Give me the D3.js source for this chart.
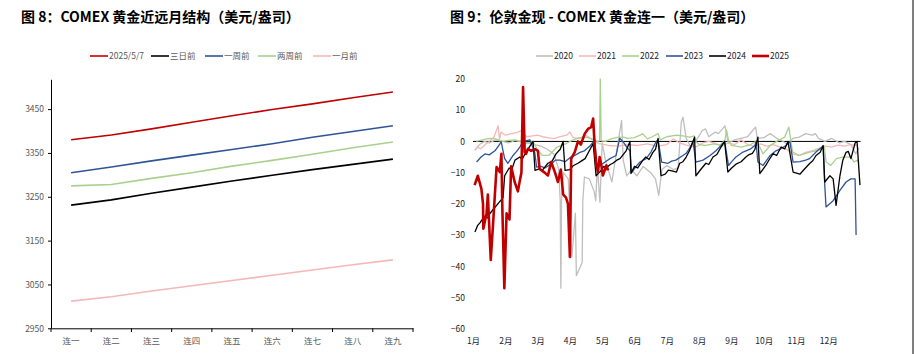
<!DOCTYPE html>
<html>
<head>
<meta charset="utf-8">
<script src="https://cdn.jsdelivr.net/npm/d3@7"></script>
<style>
  body { margin: 0; background: #fff; }
  svg { display: block; }
  .title { font-family: "Noto Sans CJK SC", sans-serif; font-weight: bold; font-size: 14px; fill: #000; }
  .num { font-family: "Liberation Sans Narrow", "Noto Sans CJK SC", sans-serif; }
  .cjk { font-family: "Noto Sans CJK SC", sans-serif; }
</style>
</head>
<body>
<script>
// ---- 图8 数据：近远月结构 ----
const contracts = ["连一", "连二", "连三", "连四", "连五", "连六", "连七", "连八", "连九"]
const curveNames = ["2025/5/7", "三日前", "一周前", "两周前", "一月前"]
const curveColors = ["#c00000", "#000000", "#2f5597", "#a9d18e", "#f4b8b8"]
const curve_0507 = [3380, 3391, 3405, 3420, 3435, 3449, 3462, 3476, 3489]
const curve_3d   = [3231, 3243, 3258, 3272, 3286, 3299, 3312, 3324, 3336]
const curve_1w   = [3305, 3318, 3332, 3345, 3358, 3371, 3386, 3399, 3412]
const curve_2w   = [3275, 3278, 3292, 3305, 3320, 3333, 3347, 3362, 3375]
const curve_1m   = [3012, 3022, 3035, 3047, 3059, 3071, 3083, 3095, 3106]
const leftTicks = [2950, 3050, 3150, 3250, 3350, 3450]

// ---- 图9 数据：伦敦金现 - COMEX连一，[月份位置, 价差] ----
const years = ["2020", "2021", "2022", "2023", "2024", "2025"]
const yearColors = ["#bfbfbf", "#f4b8b8", "#a9d18e", "#2f5597", "#000000", "#c00000"]
const months = ["1月","2月","3月","4月","5月","6月","7月","8月","9月","10月","11月","12月"]
const rightTicks = [20, 10, 0, -10, -20, -30, -40, -50, -60]

const s2020 = [[0.05,-2.9],[0.2,-1],[0.35,0],[0.5,-0.5],[0.7,0.5],[0.9,0],[1.1,-0.5],[1.3,0.3],[1.5,0],[1.7,-0.5],
  [1.9,-1],[2.1,-1.5],[2.3,-2.5],[2.5,-4],[2.65,-8.7],[2.7,-19],[2.72,-47],[2.74,-19],[2.8,-10],[2.95,-12],
  [3.06,-37],[3.17,-23],[3.2,-43],[3.33,-40],[3.38,-38.7],[3.4,-19],[3.45,-11.4],[3.6,-12],[3.75,-16],[3.8,-19],
  [3.85,-7.7],[3.93,-19.5],[4.0,-0.5],[4.1,-6],[4.3,-13],[4.45,-3],[4.6,6.7],[4.65,-6],[4.76,-11],[4.9,-9],
  [5.07,-11],[5.27,-8],[5.5,-10],[5.65,-12],[5.75,-17.3],[5.85,-9],[6.0,-7.7],[6.2,-9],[6.35,-8.5],[6.45,6.2],
  [6.5,7.8],[6.6,1],[6.75,-2],[6.95,1],[7.1,3.5],[7.2,4],[7.3,1.5],[7.5,3],[7.6,2.5],[7.8,5],[7.9,-0.5],
  [8.1,0.5],[8.3,1],[8.5,1.5],[8.7,4],[8.75,4.6],[8.8,1],[9.0,1.2],[9.2,2.5],[9.4,1],[9.6,0],[9.75,-1],
  [9.9,1],[10.1,1.4],[10.3,2.5],[10.5,2],[10.6,2.5],[10.7,1],[10.9,0],[11.1,1],[11.35,-0.5],[11.5,0],
  [11.7,-1],[11.85,-4],[11.95,-2]]
const s2021 = [[0.1,-1.8],[0.25,-2.3],[0.4,-0.8],[0.5,0],[0.65,1.4],[0.78,5],[0.82,0.5],[0.87,3],[1.0,2],[1.2,2.5],
  [1.35,2.8],[1.5,3.5],[1.65,1.5],[1.85,1.8],[2.0,2],[2.15,1.5],[2.3,1.2],[2.5,0.9],[2.7,1.5],[2.9,2],[3.0,3],
  [3.1,1.2],[3.3,0.9],[3.5,2],[3.7,0.5],[3.9,-0.7],[4.2,-1.3],[4.5,-1.5],[4.8,-1],[5.1,-1.3],[5.4,-0.8],
  [5.7,-1.5],[6.0,-1],[6.2,0.8],[6.4,-0.5],[6.6,-1.2],[6.9,-1.8],[7.1,-0.5],[7.3,0],[7.5,-0.6],[7.7,-1.4],
  [7.9,-0.5],[8.1,-1],[8.3,0.5],[8.5,-1],[8.7,-1.5],[8.9,-0.8],[9.1,-1.5],[9.3,-1],[9.5,-1.8],[9.7,-2.5],
  [9.9,-4],[10.1,-4.5],[10.3,-3.5],[10.5,-3],[10.7,-2.2],[10.9,-1.5],[11.1,-1.8],[11.3,-1.2],[11.5,-1.5],
  [11.7,-1],[11.9,-1.3]]
const s2022 = [[0.1,0],[0.3,0.5],[0.5,1],[0.7,0.8],[0.9,0],[1.1,0.3],[1.3,0.5],[1.5,-0.2],[1.7,-0.7],[1.85,0],
  [1.95,-1.8],[2.05,-3.4],[2.15,-4.5],[2.35,-4.5],[2.6,-1.8],[2.9,-0.6],[3.1,0.5],[3.3,1.2],[3.5,1.4],[3.65,1],
  [3.85,0],[3.92,0.2],[3.94,20],[3.97,0.2],[4.1,0],[4.3,0.9],[4.5,1.4],[4.65,1.4],[4.8,1],[5.0,1.2],[5.17,2],
  [5.25,2.5],[5.4,0.8],[5.55,1.5],[5.73,2.5],[5.8,0.5],[6.0,1.5],[6.3,2],[6.5,1.8],[6.7,1.4],[6.85,1.8],
  [6.9,0],[7.0,-1],[7.2,-1.3],[7.45,-0.8],[7.65,-1.2],[7.8,0.5],[7.85,3.5],[7.92,0],[8.0,-1.3],[8.3,-1.8],
  [8.6,-1],[8.75,0],[8.88,-1.8],[8.98,-4],[9.2,-1.3],[9.4,0],[9.65,1.4],[9.78,4.6],[9.84,0],[9.9,-3.4],
  [10.1,-4.5],[10.4,-3.5],[10.6,-3],[10.8,-2.4],[10.88,-2],[10.93,-6.6],[11.08,-7.7],[11.25,-5.5],[11.45,-5],
  [11.7,-5],[11.8,-6.6],[11.9,-6],[11.95,-7]]
const s2023 = [[0.11,-6.6],[0.25,-5],[0.37,-4],[0.5,-4.3],[0.68,-3],[0.84,-0.7],[0.87,0],[0.98,-5.5],[1.08,-7],
  [1.24,-4.5],[1.35,-3.2],[1.45,-1.8],[1.55,0],[1.76,0.5],[1.91,-3.4],[1.97,-8.2],[2.1,-8],[2.23,-8.5],[2.45,-7],
  [2.55,-6],[2.69,-6],[2.85,-6.5],[3.03,-5],[3.15,-4.5],[3.31,-3.5],[3.45,-3],[3.62,-1.5],[3.77,0.5],[3.83,-8.2],
  [3.93,-7.7],[4.1,-6.5],[4.24,-5.5],[4.43,-4.5],[4.54,1],[4.64,0],[4.77,-2],[4.86,-3],[4.91,-10],[5.05,-8],
  [5.17,-6.6],[5.36,-5.5],[5.51,-3.4],[5.67,0],[5.73,0.5],[5.84,-6.6],[6.04,-7],[6.15,-6.3],[6.28,-6],
  [6.5,-4.5],[6.6,-3.8],[6.72,-2],[6.81,0],[6.9,-6.6],[7.12,-6],[7.34,-4.5],[7.52,-3],[7.68,-1.3],[7.79,0],
  [7.91,-7.7],[8.05,-6],[8.14,-5],[8.36,-3.4],[8.58,-2.5],[8.73,-1.3],[8.76,0],[8.82,-6.6],[8.98,-7.7],
  [9.2,-4.5],[9.38,-3],[9.55,-2.2],[9.69,-1.3],[9.81,0],[9.91,-6.6],[10.12,-6.5],[10.3,-6],[10.42,-5.5],
  [10.62,-3.4],[10.84,-1.5],[10.89,-14],[10.93,-21],[11.15,-19],[11.36,-15.7],[11.55,-13],[11.7,-12],
  [11.83,-12],[11.86,-30]]
const s2024 = [[0.06,-29],[0.14,-27],[0.22,-26],[0.35,-24],[0.45,-24.5],[0.53,-23],[0.65,-21.5],[0.77,-20],
  [0.93,-18],[0.98,-11],[1.12,-8.5],[1.2,-9],[1.3,-6],[1.45,-5],[1.52,-5.8],[1.64,-3.4],[1.86,0],
  [1.92,-9.3],[2.05,-8.8],[2.15,-9.2],[2.32,-7],[2.45,-6.3],[2.57,-4],[2.7,-2.5],[2.79,0],[2.85,-9.3],
  [3.0,-9],[3.1,-7.8],[3.25,-7],[3.35,-6.3],[3.47,-5.5],[3.6,-3],[3.72,-0.7],[3.81,-11],[3.95,-9.5],[4.05,-8],
  [4.12,-8.5],[4.25,-7.4],[4.33,-7],[4.45,-6],[4.55,-5.5],[4.65,-4.2],[4.74,-3],[4.86,0],[4.89,-10.3],
  [5.0,-8],[5.1,-8.5],[5.26,-6],[5.35,-5],[5.45,-5.8],[5.57,-3.5],[5.65,-2.5],[5.73,1],[5.82,-11],[5.95,-10.5],
  [6.05,-9.2],[6.19,-9.5],[6.3,-9.8],[6.4,-7],[6.5,-6.5],[6.6,-5],[6.7,-3],[6.81,0],[6.86,1.4],[6.9,-11],
  [7.05,-9],[7.21,-7],[7.3,-7.4],[7.43,-5],[7.55,-4.2],[7.68,-1.8],[7.79,0],[7.89,-9.8],[8.0,-8.6],[8.14,-7.3],
  [8.3,-6.5],[8.45,-5],[8.55,-4.2],[8.65,-3.8],[8.73,-2.5],[8.82,1.4],[8.88,-10.3],[9.07,-7.6],[9.15,-6.2],
  [9.29,-3.9],[9.4,-4.5],[9.54,-1.8],[9.65,-2.4],[9.75,0],[9.91,-9.8],[10.12,-10.5],[10.25,-9],[10.43,-7],
  [10.52,-6.2],[10.62,-4.5],[10.75,-3.5],[10.84,-1.3],[10.89,-13],[11.05,-11],[11.15,-12],[11.24,-20.5],
  [11.36,-11],[11.45,-6],[11.55,-3.5],[11.62,-3.2],[11.7,-5.5],[11.83,-0.5],[11.89,0],[11.98,-14]]
const s2025 = [[0.05,-14],[0.15,-11],[0.26,-15.2],[0.31,-20],[0.32,-28],[0.42,-23],[0.46,-17],[0.55,-38],
  [0.63,-25],[0.73,-8.2],[0.83,-9.8],[0.88,-4],[0.91,-22],[0.97,-47],[1.04,-23],[1.13,-25],[1.18,-8],
  [1.29,-13],[1.39,-16],[1.46,-12],[1.5,-10],[1.55,17.4],[1.6,-3.4],[1.64,-4],[1.7,-2.4],[1.8,-3],[1.92,-2.5],
  [2.01,-3],[2.06,-8.8],[2.22,-10],[2.32,-10.9],[2.42,-6.6],[2.54,-10],[2.63,-13],[2.72,-9],[2.79,-17],
  [2.88,-18],[2.94,-20],[3.0,-37],[3.04,-5.5],[3.15,-3.4],[3.25,0],[3.34,-1],[3.46,2.5],[3.56,4],[3.66,4.6],
  [3.72,7.3],[3.77,-2],[3.82,-7.7],[3.87,-9.8],[3.92,-5],[3.98,-8],[4.02,-10.9],[4.13,-7.7],[4.18,-9.3]]
const spreads = [s2020, s2021, s2022, s2023, s2024, s2025]

const svg = d3.select("body").append("svg").attr("width", 916).attr("height", 354)

// 标题
svg.append("text").attr("class", "title").attr("x", 21).attr("y", 22)
  .text("图 8：COMEX 黄金近远月结构（美元/盎司）")
svg.append("text").attr("class", "title").attr("x", 450).attr("y", 22)
  .text("图 9：伦敦金现 - COMEX 黄金连一（美元/盎司）")

// 右侧边框
svg.append("line").attr("x1", 913).attr("x2", 913).attr("y1", 0).attr("y2", 354)
  .attr("stroke", "#000").attr("stroke-width", 1)

drawLeft()
drawRight()

function drawLeft() {
  let x = d3.scaleBand().domain(contracts).range([51, 413])
  let y = d3.scaleLinear().domain([2950, 3518]).range([328.3, 79.3])
  let g = svg.append("g")

  // y 轴
  let ya = g.append("g").attr("transform", "translate(51,0)")
    .call(d3.axisLeft(y).tickValues(leftTicks).tickFormat(d3.format("d")).tickSize(3).tickPadding(4).tickSizeOuter(0))
  ya.select(".domain").attr("stroke", "#000")
  ya.selectAll("text").attr("class", "num").attr("font-size", 8.5).attr("fill", "#595959")

  // x 轴（刻度在类别之间）
  let xa = g.append("g").attr("transform", "translate(0,328.3)")
    .call(d3.axisBottom(x).tickSize(0).tickPadding(10).tickSizeOuter(0))
  xa.select(".domain").attr("stroke", "#000")
  xa.selectAll("text").attr("class", "cjk").attr("font-size", 8.5).attr("fill", "#595959")
  g.selectAll("line.sep").data(d3.range(contracts.length + 1)).enter().append("line")
    .attr("x1", i => 51 + i * x.step()).attr("x2", i => 51 + i * x.step())
    .attr("y1", 328.3).attr("y2", 332).attr("stroke", "#000")

  let curves = [curve_0507, curve_3d, curve_1w, curve_2w, curve_1m]
  let line = d3.line().x((d, i) => x(contracts[i]) + x.bandwidth() / 2).y(d => y(d))
  g.selectAll("path.curve").data(curves).enter().append("path")
    .attr("d", line).attr("fill", "none")
    .attr("stroke", (d, i) => curveColors[i]).attr("stroke-width", 1.6)

  // 图例
  let lx = [90, 151, 205, 258, 313]
  let lg = g.selectAll("g.leg").data(curveNames).enter().append("g")
    .attr("transform", (d, i) => "translate(" + lx[i] + ",56)")
  lg.append("line").attr("x1", 0).attr("x2", 18).attr("stroke", (d, i) => curveColors[i]).attr("stroke-width", 1.6)
  lg.append("text").attr("x", 19).attr("y", 3).attr("font-size", 8.5).attr("fill", "#595959")
    .attr("class", (d, i) => i == 0 ? "num" : "cjk").text(d => d)
}

function drawRight() {
  let x = d3.scaleLinear().domain([0, 12]).range([473, 860.6])
  let y = d3.scaleLinear().domain([-60, 20]).range([328.7, 79])
  let g = svg.append("g")

  let ya = g.append("g").attr("transform", "translate(473,0)")
    .call(d3.axisLeft(y).tickValues(rightTicks).tickSize(0).tickPadding(8))
  ya.select(".domain").remove()
  ya.selectAll("text").attr("class", "num").attr("font-size", 8.5).attr("fill", "#1a1a2e")

  let xa = g.append("g").attr("transform", "translate(0,334)")
    .call(d3.axisBottom(x).tickValues(d3.range(12)).tickFormat(i => months[i]).tickSize(0).tickPadding(4))
  xa.select(".domain").remove()
  xa.selectAll("text").attr("class", "cjk").attr("font-size", 8.5).attr("fill", "#1a1a2e")

  // 零轴
  g.append("line").attr("x1", x(0)).attr("x2", x(12)).attr("y1", y(0)).attr("y2", y(0))
    .attr("stroke", "#000").attr("stroke-width", 1)

  let line = d3.line().x(d => x(d[0])).y(d => y(d[1]))
  g.selectAll("path.spread").data(spreads).enter().append("path")
    .attr("d", line).attr("fill", "none")
    .attr("stroke", (d, i) => yearColors[i])
    .attr("stroke-width", (d, i) => i == 5 ? 2.6 : 1.3)
    .attr("stroke-linejoin", "round")

  let lx = [536, 579, 622, 666, 709, 752]
  let lg = g.selectAll("g.leg").data(years).enter().append("g")
    .attr("transform", (d, i) => "translate(" + lx[i] + ",56)")
  lg.append("line").attr("x1", 0).attr("x2", 17).attr("stroke", (d, i) => yearColors[i])
    .attr("stroke-width", (d, i) => i == 5 ? 2.6 : 1.6)
  lg.append("text").attr("class", "num").attr("x", 18).attr("y", 3).attr("font-size", 8.5)
    .attr("fill", "#1a1a2e").text(d => d)
}
</script>
</body>
</html>
